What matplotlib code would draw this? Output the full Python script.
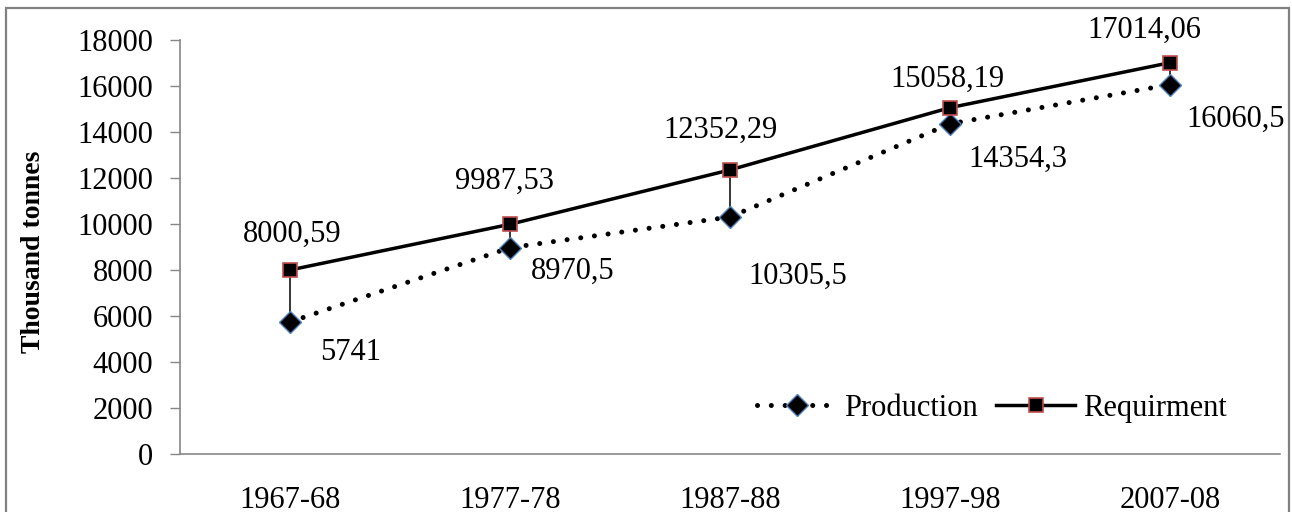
import matplotlib
matplotlib.use("Agg")
import matplotlib.pyplot as plt
from matplotlib.patches import Rectangle
import numpy as np

categories = ["1967-68", "1977-78", "1987-88", "1997-98", "2007-08"]
production = [5741, 8970.5, 10305.5, 14354.3, 16060.5]
requirement = [8000.59, 9987.53, 12352.29, 15058.19, 17014.06]
production_labels = ["5741", "8970,5", "10305,5", "14354,3", "16060,5"]
requirement_labels = ["8000,59", "9987,53", "12352,29", "15058,19", "17014,06"]
y_ticks = [0, 2000, 4000, 6000, 8000, 10000, 12000, 14000, 16000, 18000]

# label offsets in pixels (dx, dy up positive)
prod_off = [(61, -31), (63, -24), (68, -59), (68, -35), (66, -35)]
req_off = [(2, 36), (-6, 43), (-9, 40), (-3, 28), (-26, 32)]

plt.rcParams['font.family'] = ['Liberation Serif', 'DejaVu Serif']

W, H = 1292, 512
fig = plt.figure(figsize=(W / 100, H / 100), dpi=100)
ax = fig.add_axes([180 / W, 1 - 454 / H, 1100 / W, 414 / H])

x = np.arange(len(categories))

# high-low (drop) lines
for xi, p, r in zip(x, production, requirement):
    ax.plot([xi, xi], [p, r], color='black', lw=1.1, zorder=2)

ax.plot(x, production, color='black', lw=3.6, linestyle=(0, (0.01, 2.75)),
        dash_capstyle='round', marker='D', markersize=11.5,
        markerfacecolor='black', markeredgecolor='#4f81bd', markeredgewidth=1.0,
        label='Production', zorder=3)
ax.plot(x, requirement, color='black', lw=2.5, linestyle='-',
        marker='s', markersize=10.5,
        markerfacecolor='black', markeredgecolor='#c0504d', markeredgewidth=1.2,
        label='Requirment', zorder=4)

px2pt = 72 / 100
for xi, v, lab, (dx, dy) in zip(x, production, production_labels, prod_off):
    ax.annotate(lab, (xi, v), xytext=(dx * px2pt, dy * px2pt), textcoords='offset points',
                ha='center', va='center', fontsize=22)
for xi, v, lab, (dx, dy) in zip(x, requirement, requirement_labels, req_off):
    ax.annotate(lab, (xi, v), xytext=(dx * px2pt, dy * px2pt), textcoords='offset points',
                ha='center', va='center', fontsize=22)

ax.set_xlim(-0.5, len(categories) - 0.5)
ax.set_ylim(0, 18000)
ax.set_yticks(y_ticks)
ax.set_yticklabels([str(t) for t in y_ticks])
ax.set_xticks(x)
ax.set_xticklabels(categories)

for s in ['top', 'right']:
    ax.spines[s].set_visible(False)
for s in ['left', 'bottom']:
    ax.spines[s].set_color('#868686')
    ax.spines[s].set_linewidth(1.2)

ax.tick_params(axis='y', direction='out', length=7.2, width=1.0, color='#868686',
               labelsize=22, pad=12)
ax.tick_params(axis='x', length=0, labelsize=22, pad=23)

ax.set_ylabel('Thousand tonnes', fontsize=20, fontweight='bold', labelpad=0)
ax.yaxis.set_label_coords(-(180 - 46) / 1100, 0.488)

leg = ax.legend(loc='center', bbox_to_anchor=(0.738, 0.11), ncol=2, frameon=False,
                fontsize=22, handlelength=2.6, handletextpad=0.25, columnspacing=0.6,
                borderpad=0, borderaxespad=0)

# chart border
fig.patches.append(Rectangle((5.5 / W, -0.1), (1289 - 5.5) / W, 1.1 - 7.5 / H,
                             transform=fig.transFigure, fill=False,
                             edgecolor='#808080', lw=1.6, zorder=10))

fig.savefig('out.png', dpi=100)
